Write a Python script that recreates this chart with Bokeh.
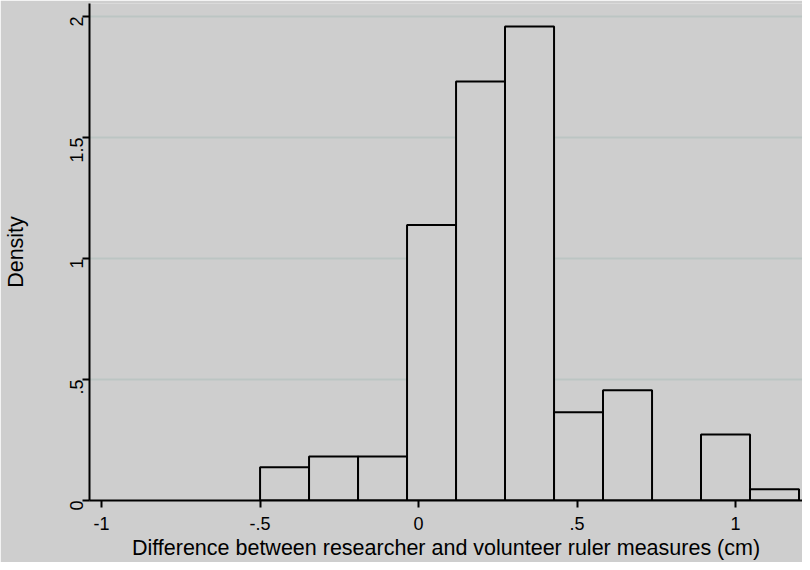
import math
from bokeh.plotting import figure
from bokeh.models import FixedTicker
from bokeh.embed import file_html
from bokeh.resources import INLINE

# ---- data ----
bin_edges = [-0.5, -0.3455, -0.1909, -0.0364, 0.1182, 0.2727, 0.4273,
             0.5818, 0.7364, 0.8909, 1.0455, 1.2]
density = [0.137, 0.182, 0.182, 1.139, 1.732, 1.959, 0.365, 0.456, 0.0, 0.273, 0.046]

x_ticks = [-1, -0.5, 0, 0.5, 1]
x_tick_labels = ["-1", "-.5", "0", ".5", "1"]
y_ticks = [0, 0.5, 1, 1.5, 2]
y_tick_labels = ["0", ".5", "1", "1.5", "2"]

x_title = "Difference between researcher and volunteer ruler measures (cm)"
y_title = "Density"

# ---- style ----
BG = "#cecece"
GRID = "#bcc5c3"
FONT = "Liberation Sans"

p = figure(width=802, height=562, output_backend="svg", toolbar_location=None,
           x_range=(-1.038, 1.211), y_range=(0, 2.054),
           min_border_left=89, min_border_right=0, min_border_top=3,
           min_border_bottom=62)

p.background_fill_color = BG
p.border_fill_color = BG
p.outline_line_color = None

p.quad(left=bin_edges[:-1], right=bin_edges[1:], bottom=0, top=density,
       fill_color=BG, line_color="black", line_width=2)

p.xgrid.visible = False
p.ygrid.ticker = FixedTicker(ticks=y_ticks)
p.ygrid.grid_line_color = GRID
p.ygrid.grid_line_width = 2

for ax in (p.xaxis[0], p.yaxis[0]):
    ax.axis_line_color = "black"
    ax.axis_line_width = 2
    ax.major_tick_line_color = "black"
    ax.major_tick_line_width = 2
    ax.major_tick_out = 7
    ax.major_tick_in = 0
    ax.minor_tick_line_color = None
    ax.major_label_text_font = FONT
    ax.major_label_text_font_size = "18px"
    ax.major_label_text_color = "black"
    ax.axis_label_text_font = FONT
    ax.axis_label_text_font_size = "21.5px"
    ax.axis_label_text_font_style = "normal"
    ax.axis_label_text_color = "black"

p.xaxis.ticker = FixedTicker(ticks=x_ticks)
p.xaxis.major_label_overrides = dict(zip(x_ticks, x_tick_labels))
p.xaxis.axis_label = x_title
p.xaxis.major_label_standoff = 9
p.xaxis.axis_label_standoff = 3

p.yaxis.ticker = FixedTicker(ticks=y_ticks)
p.yaxis.major_label_overrides = dict(zip(y_ticks, y_tick_labels))
p.yaxis.major_label_orientation = math.pi / 2
p.yaxis.axis_label = y_title
p.yaxis.major_label_standoff = 6
p.yaxis.axis_label_standoff = 33

open("out.html", "w").write(file_html(p, INLINE))
